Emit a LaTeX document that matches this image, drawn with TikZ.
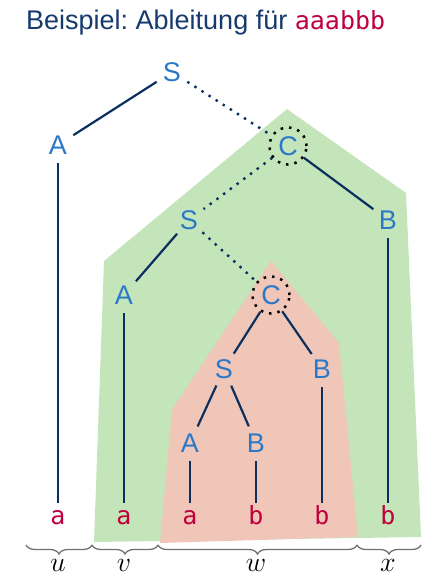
\documentclass[tikz,border=0pt]{standalone}
\usepackage{fix-cm}
\usepackage{fontspec}
\setsansfont{Liberation Sans}
\setmonofont{DejaVu Sans Mono}
\usetikzlibrary{decorations.pathreplacing}
\definecolor{ntblue}{HTML}{2A78C8}
\definecolor{edgeblue}{HTML}{0B2F5E}
\definecolor{titleblue}{HTML}{163A6C}
\definecolor{termred}{HTML}{C0003C}
\definecolor{greenfill}{HTML}{C4E5BA}
\definecolor{redfill}{HTML}{F0C6B8}
\definecolor{bracegray}{HTML}{707070}
\frenchspacing
\begin{document}
\begin{tikzpicture}[x=1pt,y=-1pt,
  nt/.style={circle,minimum size=36pt,inner sep=0pt,text=ntblue,
    font=\sffamily\fontsize{27}{27}\selectfont,text height=19.5pt,text depth=0pt},
  term/.style={circle,minimum size=34pt,inner sep=0pt,text=termred,
    font=\ttfamily\fontsize{25}{25}\selectfont,text height=8pt,text depth=0pt},
  edge/.style={draw=edgeblue,line width=2.2pt},
  dotedge/.style={draw=edgeblue,line width=2.4pt,dash pattern=on 2.4pt off 6pt},
  focus/.style={draw=black,line width=2.5pt,dash pattern=on 2.5pt off 6pt,minimum size=37pt},
  ubrace/.style={draw=bracegray,line width=1.3pt,decorate,decoration={brace,mirror,amplitude=9pt}},
  seglabel/.style={anchor=base,inner sep=0pt,font=\fontsize{28}{28}\selectfont}
]
\useasboundingbox (0,0) rectangle (423,576);
% title
\node[anchor=base west,inner sep=0pt,text=titleblue,font=\sffamily\fontsize{27}{27}\selectfont] (title) at (26,29)
  {Beispiel: Ableitung für \textcolor{termred}{\ttfamily\fontsize{25}{25}\selectfont aaabbb}};
% shaded regions
\fill[greenfill] (287,109) -- (406,193) -- (421,537) -- (94,542) -- (104,261) -- cycle;
\fill[redfill] (271,261) -- (339,343) -- (358,537) -- (160,543) -- (172,410) -- cycle;
% nonterminals
\node[nt] (S1) at (172,72) {S};
\node[nt] (A1) at (58,145) {A};
\node[nt,focus] (C1) at (288,146) {C};
\node[nt] (S2) at (189,220) {S};
\node[nt] (B1) at (388,220) {B};
\node[nt] (A2) at (124,295) {A};
\node[nt,focus] (C2) at (271,295) {C};
\node[nt] (S3) at (224,369) {S};
\node[nt] (B2) at (322,369) {B};
\node[nt] (A3) at (190,443) {A};
\node[nt] (B3) at (256,443) {B};
% terminals
\node[term] (t1) at (58,520) {a};
\node[term] (t2) at (124,520) {a};
\node[term] (t3) at (190,520) {a};
\node[term] (t4) at (256,520) {b};
\node[term] (t5) at (322,520) {b};
\node[term] (t6) at (388,520) {b};
% edges
\draw[edge] (S1) -- (A1);
\draw[edge] (A1) -- (t1);
\draw[edge] (C1) -- (B1);
\draw[edge] (B1) -- (t6);
\draw[edge] (S2) -- (A2);
\draw[edge] (A2) -- (t2);
\draw[edge] (C2) -- (S3);
\draw[edge] (C2) -- (B2);
\draw[edge] (B2) -- (t5);
\draw[edge] (S3) -- (A3);
\draw[edge] (S3) -- (B3);
\draw[edge] (A3) -- (t3);
\draw[edge] (B3) -- (t4);
\draw[dotedge] (S1) -- (C1);
\draw[dotedge] (C1) -- (S2);
\draw[dotedge] (S2) -- (C2);
% braces
\coordinate (b0) at (26,545);
\coordinate (b1) at (92,545);
\coordinate (b2) at (158,545);
\coordinate (b3) at (357,545);
\coordinate (b4) at (421,545);
\draw[ubrace] (b0) -- (b1);
\draw[ubrace] (b1) -- (b2);
\draw[ubrace] (b2) -- (b3);
\draw[ubrace] (b3) -- (b4);
\node[seglabel] (lu) at (58,571) {$u$};
\node[seglabel] (lv) at (124,571) {$v$};
\node[seglabel] (lw) at (256,571) {$w$};
\node[seglabel] (lx) at (388,571) {$x$};
\end{tikzpicture}
\end{document}
